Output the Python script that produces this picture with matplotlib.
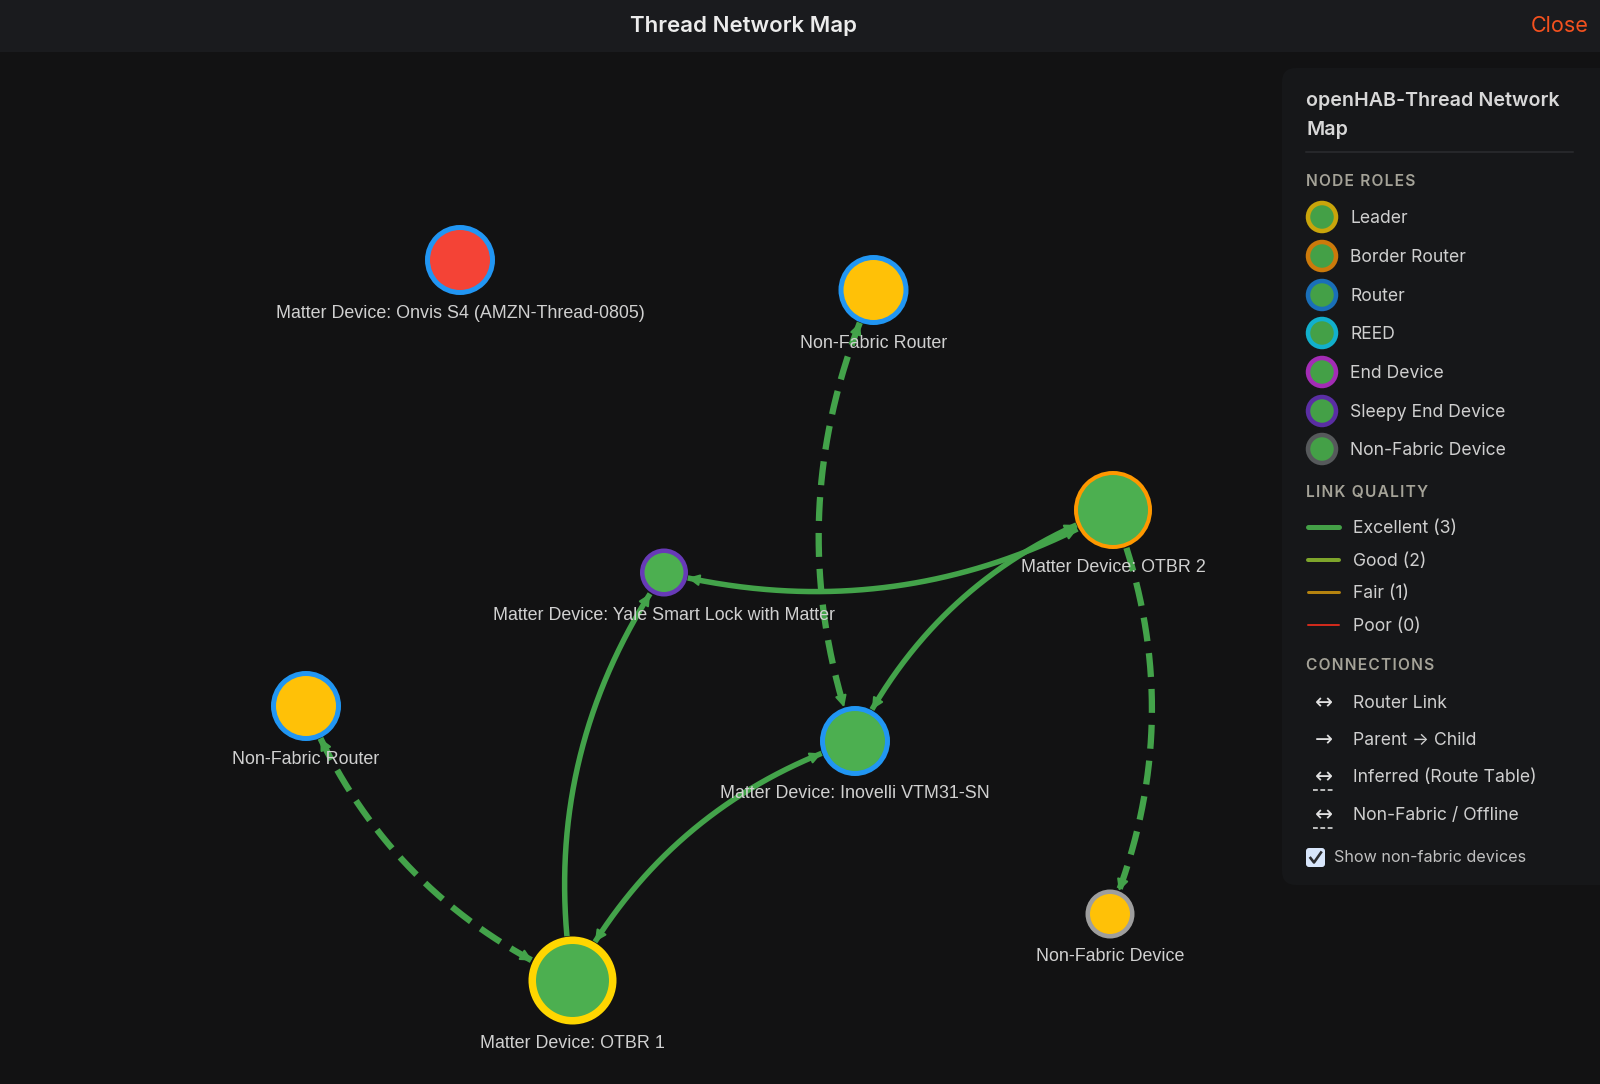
import numpy as np
import matplotlib
matplotlib.use('Agg')
import matplotlib.pyplot as plt
from matplotlib.patches import Circle, FancyArrowPatch, FancyBboxPatch, Rectangle

PX = 0.72  # one pixel in points at dpi 100

# nodes: name -> x, y, outer radius, border width, fill, border, label, label y
node_names = ['onvis', 'nfr1', 'otbr2', 'yale', 'inovelli', 'nfr2', 'otbr1', 'nfd']
node_x = [460, 873.5, 1113, 664, 855, 306, 572.5, 1110]
node_y = [260, 290, 510, 572.5, 741, 706, 980.5, 914]
node_r = [35, 35, 39, 24, 35, 35, 44, 24.5]
node_bw = [5, 5, 4, 4.5, 5, 5, 7.5, 4.5]
node_fill = ['#f44336', '#ffc107', '#4caf50', '#4caf50', '#4caf50', '#ffc107', '#4caf50', '#ffc107']
node_edge = ['#2196f3', '#2196f3', '#ff9800', '#673ab7', '#2196f3', '#2196f3', '#ffd600', '#9e9e9e']
node_labels = ['Matter Device: Onvis S4 (AMZN-Thread-0805)', 'Non-Fabric Router', 'Matter Device: OTBR 2',
               'Matter Device: Yale Smart Lock with Matter', 'Matter Device: Inovelli VTM31-SN',
               'Non-Fabric Router', 'Matter Device: OTBR 1', 'Non-Fabric Device']
label_y = [314, 343, 567, 615, 794, 760, 1043, 956.5]

# edges: from, to, bend, dashed, arrow at from, arrow at to
edges = [
    ('nfr2', 'otbr1', -0.2, True, True, True),
    ('otbr1', 'yale', 0.2, False, False, True),
    ('otbr1', 'inovelli', 0.2, False, True, True),
    ('otbr2', 'yale', 0.2, False, True, True),
    ('otbr2', 'inovelli', -0.2, False, True, True),
    ('nfr1', 'inovelli', -0.2, True, True, True),
    ('otbr2', 'nfd', 0.2, True, False, True),
]

role_names = ['Leader', 'Border Router', 'Router', 'REED', 'End Device', 'Sleepy End Device', 'Non-Fabric Device']
role_colors = ['#c9a50b', '#cc7a0b', '#1a6fb8', '#12b0cc', '#a32cb5', '#5a2ea3', '#56595b']
role_y = [217, 256, 295, 333, 372, 411, 449]

quality_names = ['Excellent (3)', 'Good (2)', 'Fair (1)', 'Poor (0)']
quality_colors = ['#44a047', '#7ea52b', '#b5830f', '#cf2a1c']
quality_lw = [5, 4, 3, 2]
quality_y = [527, 560, 592, 625]

conn_names = ['Router Link', 'Parent → Child', 'Inferred (Route Table)', 'Non-Fabric / Offline']
conn_symbols = ['↔', '→', '↔', '↔']
conn_dashed = [False, False, True, True]
conn_y = [702, 739, 776, 814]

BG = '#121213'
EDGE_COLOR = '#43a34a'
PANEL_FONT = ['Inter', 'DejaVu Sans']
LABEL_FONT = ['Liberation Sans', 'DejaVu Sans']

fig = plt.figure(figsize=(16, 10.84), dpi=100, facecolor=BG)
ax = fig.add_axes([0, 0, 1, 1])
ax.set_xlim(0, 1600)
ax.set_ylim(1084, 0)
ax.axis('off')

# header
ax.add_patch(Rectangle((0, 0), 1600, 52, fc='#1a1b1e', ec='none', zorder=1))
ax.text(744, 26.5, 'Thread Network Map', color='#ececec', fontsize=16, fontweight='semibold',
        family=PANEL_FONT, ha='center', va='center', zorder=2)
ax.text(1589, 26.5, 'Close', color='#f4511e', fontsize=15.5, family=PANEL_FONT, ha='right', va='center', zorder=2)

pos = {n: (x, y, r) for n, x, y, r in zip(node_names, node_x, node_y, node_r)}


def curve(p0, p1, bend, n=300):
    # quadratic curve, control point off the chord by bend * length
    p0, p1 = np.array(p0), np.array(p1)
    d = p1 - p0
    c = (p0 + p1) / 2 + bend * np.array([d[1], -d[0]])
    t = np.linspace(0, 1, n)[:, None]
    return (1 - t) ** 2 * p0 + 2 * t * (1 - t) * c + t ** 2 * p1


def arrow_head(pts):
    # pts run away from the node, head tip is at the first point
    ax.add_patch(FancyArrowPatch(tuple(pts[14]), tuple(pts[0]), arrowstyle='-|>', mutation_scale=17,
                                 color=EDGE_COLOR, lw=1.5, shrinkA=0, shrinkB=0, zorder=4))


for a, b, bend, dashed, arrow_a, arrow_b in edges:
    xa, ya, ra = pos[a]
    xb, yb, rb = pos[b]
    pts = curve((xa, ya), (xb, yb), bend)
    da = np.hypot(pts[:, 0] - xa, pts[:, 1] - ya)
    db = np.hypot(pts[:, 0] - xb, pts[:, 1] - yb)
    pts = pts[(da >= ra) & (db >= rb)]
    width = 6.3 if dashed else 5.5
    line, = ax.plot(pts[:, 0], pts[:, 1], color=EDGE_COLOR, lw=width * PX, zorder=3, solid_capstyle='butt',
                    dash_capstyle='butt')
    if dashed:
        line.set_dashes((3.8, 1.9))
    if arrow_a:
        arrow_head(pts)
    if arrow_b:
        arrow_head(pts[::-1])

for i in range(len(node_names)):
    r_mid = node_r[i] - node_bw[i] / 2
    ax.add_patch(Circle((node_x[i], node_y[i]), r_mid, fc=node_fill[i], ec=node_edge[i],
                        lw=node_bw[i] * PX, zorder=5))
    ax.text(node_x[i], label_y[i], node_labels[i], color='#d0d0d0', fontsize=12.9, family=LABEL_FONT,
            ha='center', va='center', zorder=6)

# legend panel
ax.add_patch(FancyBboxPatch((1282, 68), 340, 817, boxstyle='round,pad=0,rounding_size=14', fc='#161719',
                            ec='none', zorder=1))
for txt, y in [('openHAB-Thread Network', 101), ('Map', 130)]:
    ax.text(1306, y, txt, color='#d8d8d8', fontsize=14.15, fontweight='semibold', family=PANEL_FONT,
            va='center', zorder=2)
ax.plot([1306, 1573], [152, 152], color='#2c2d30', lw=1.5 * PX, zorder=2)

for txt, y in [('NODE ROLES', 181), ('LINK QUALITY', 493), ('CONNECTIONS', 666)]:
    # hair spaces stand in for the letter spacing
    ax.text(1306, y, '\u200a'.join(txt), color='#a5a398', fontsize=11.2, fontweight='semibold',
            family=PANEL_FONT, va='center', zorder=2)

for name, col, y in zip(role_names, role_colors, role_y):
    ax.add_patch(Circle((1322, y), 14, fc='#44a047', ec=col, lw=4.5 * PX, zorder=2))
    ax.text(1350, y + 1.5, name, color='#cfcfcf', fontsize=12.65, family=PANEL_FONT, va='center', zorder=2)

for name, col, lw, y in zip(quality_names, quality_colors, quality_lw, quality_y):
    ax.plot([1308, 1339], [y, y], color=col, lw=lw * PX, solid_capstyle='round', zorder=2)
    ax.text(1353, y + 1.5, name, color='#cfcfcf', fontsize=12.7, family=PANEL_FONT, va='center', zorder=2)

for name, sym, dashed, y in zip(conn_names, conn_symbols, conn_dashed, conn_y):
    ax.text(1323.5, y + 1, sym, color='#e0e0e0', fontsize=15.5, family='DejaVu Sans',
            ha='center', va='center', zorder=2)
    if dashed:
        ax.plot([1313, 1334], [y + 14, y + 14], color='#e0e0e0', lw=1.6 * PX, dashes=(3, 1.6), zorder=2)
    ax.text(1353, y + 1.5, name, color='#cfcfcf', fontsize=12.7, family=PANEL_FONT, va='center', zorder=2)

# checkbox
ax.add_patch(FancyBboxPatch((1306, 848), 19, 19, boxstyle='round,pad=0,rounding_size=3', fc='#d8e6fb',
                            ec='none', zorder=2))
ax.plot([1310.5, 1314, 1321], [858, 862.5, 852.5], color='#2c2d30', lw=2.6 * PX, zorder=3)
ax.text(1334, 857, 'Show non-fabric devices', color='#c0c0c0', fontsize=11.65, family=PANEL_FONT,
        va='center', zorder=2)

fig.savefig('out.png', dpi=100, facecolor=BG)
